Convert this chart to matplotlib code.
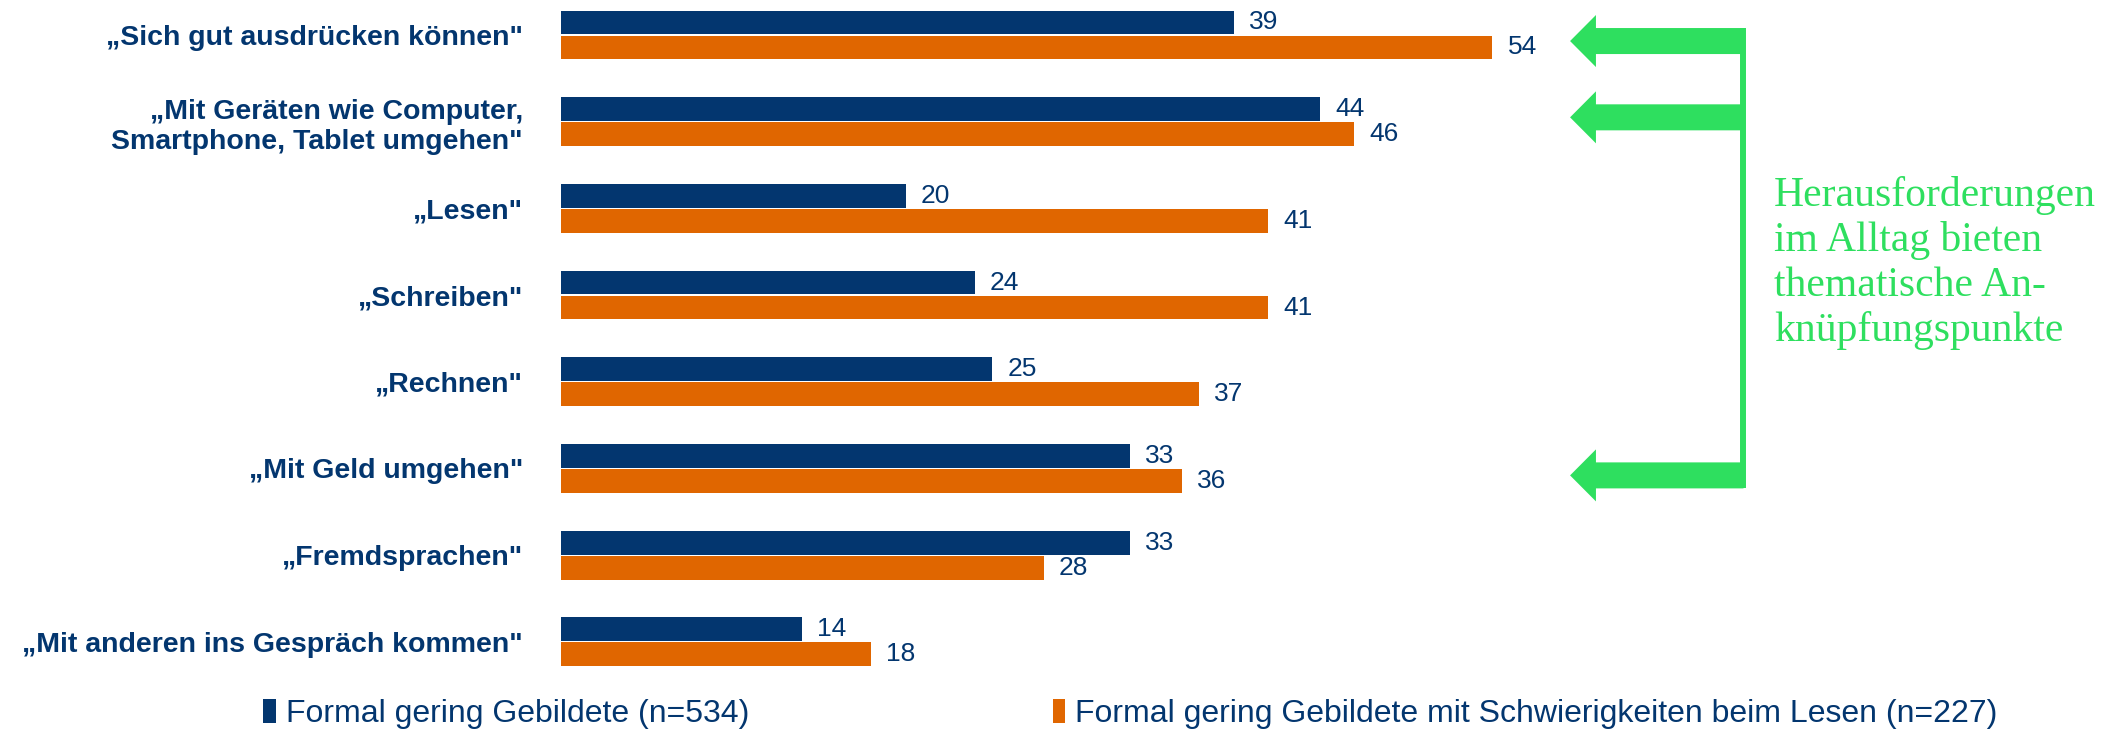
import matplotlib.pyplot as plt
import numpy as np
from matplotlib.patches import FancyArrow

# Data
categories = ['„Sich gut ausdrücken können"',
              '„Mit Geräten wie Computer,\nSmartphone, Tablet umgehen"',
              '„Lesen"',
              '„Schreiben"',
              '„Rechnen"',
              '„Mit Geld umgehen"',
              '„Fremdsprachen"',
              '„Mit anderen ins Gespräch kommen"']
gering = [39, 44, 20, 24, 25, 33, 33, 14]
schwierig = [54, 46, 41, 41, 37, 36, 28, 18]
series_names = ['Formal gering Gebildete (n=534)',
                'Formal gering Gebildete mit Schwierigkeiten beim Lesen (n=227)']
arrow_rows = [0, 1, 5]
arrow_shift = [0.07, -0.05, 0.08]
note = 'Herausforderungen\nim Alltag bieten\nthematische An-\nknüpfungspunkte'

navy = '#03366F'
orange = '#E06600'
green = '#2EDF5F'

plt.rcParams['font.family'] = ['Liberation Sans', 'DejaVu Sans']

fig = plt.figure(figsize=(21.13, 7.34), dpi=100)
ax = fig.add_axes([0.2653, 0.0783, 0.49, 0.9213])

y = np.arange(len(categories))
h = 0.275
off = 0.144
b1 = ax.barh(y - off, gering, height=h, color=navy, label=series_names[0])
b2 = ax.barh(y + off, schwierig, height=h, color=orange, label=series_names[1])

for bars, vals in [(b1, gering), (b2, schwierig)]:
    for rect, v in zip(bars, vals):
        ax.annotate(str(v), (v, rect.get_y() + rect.get_height() / 2),
                    xytext=(11, 0), textcoords='offset points',
                    ha='left', va='center', fontsize=19, color=navy)

ax.set_xlim(0, 60)
ax.set_ylim(7.4, -0.4)
ax.set_yticks(y)
ax.set_yticklabels(categories, fontsize=20.5, fontweight='bold', color=navy,
                   linespacing=1.2)
ax.tick_params(axis='y', length=0, pad=27)
ax.set_xticks([])
for s in ax.spines.values():
    s.set_visible(False)

# green bracket with arrows
shaft = 0.30
x_tip = 58.5
x_line = 68.55
ys = [r + d for r, d in zip(arrow_rows, arrow_shift)]
for yy in ys:
    ax.add_patch(FancyArrow(x_line, yy, x_tip - x_line, 0, width=shaft,
                            head_width=0.6, head_length=1.5,
                            length_includes_head=True, color=green,
                            clip_on=False, lw=0))
ax.plot([x_line, x_line], [ys[0] - shaft / 2, ys[-1] + shaft / 2],
        color=green, lw=4.3, clip_on=False, solid_capstyle='butt')
ax.text(70.3, 2.63, note, fontsize=30, color=green, family='Liberation Serif',
        ha='left', va='center', linespacing=1.2)

leg = fig.legend(handles=[b1, b2], loc='center', bbox_to_anchor=(0.535, 0.027),
                 ncol=2, frameon=False, fontsize=23, handlelength=0.4,
                 handleheight=0.75, handletextpad=0.3, columnspacing=9.5)
for t in leg.get_texts():
    t.set_color(navy)

fig.savefig('out.png', dpi=100)
